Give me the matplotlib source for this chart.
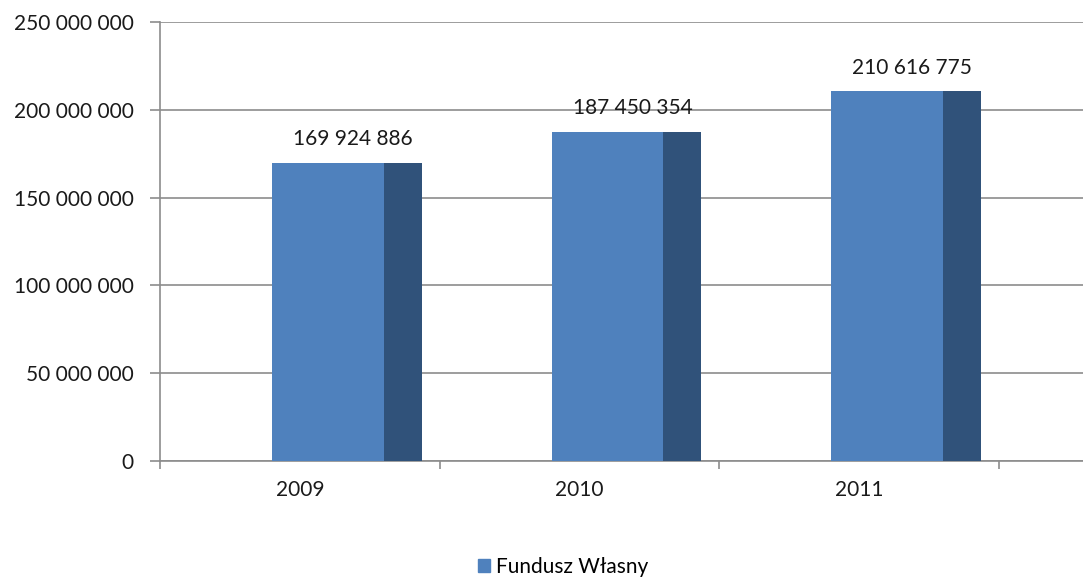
import matplotlib.pyplot as plt
from matplotlib.patches import Patch

years = ['2009', '2010', '2011']
values = [169924886, 187450354, 210616775]
y_ticks = [0, 50000000, 100000000, 150000000, 200000000, 250000000]

FRONT = '#4F81BD'
SIDE = '#30527A'
GRID = '#8C8C8C'
TEXT = '#1a1a1a'

plt.rcParams['font.family'] = ['Lato', 'DejaVu Sans']


def fmt(v):
    return f'{v:,}'.replace(',', ' ')


fig = plt.figure(figsize=(10.83, 5.78), dpi=100)
ax = fig.add_axes([160 / 1083, 1 - 461 / 578, (1083 - 160) / 1083, (461 - 22) / 578])

x = list(range(len(years)))
ax.bar([i - 0.1 for i in x], values, width=0.4, align='edge', color=FRONT, zorder=3)
ax.bar([i + 0.3 for i in x], values, width=0.136, align='edge', color=SIDE, zorder=3)

# value labels above the bars
for i, v in zip(x, values):
    ax.annotate(fmt(v), (i + 0.19, v), xytext=(0, 17), textcoords='offset points',
                ha='center', va='center', fontsize=15, color=TEXT)

ax.set_xlim(-0.5, 2.8)
ax.set_ylim(0, 250000000)
ax.set_yticks(y_ticks)
ax.set_yticklabels([fmt(t) for t in y_ticks], fontsize=15, color=TEXT)
ax.set_xticks(x)
ax.set_xticklabels(years, fontsize=15, color=TEXT)
ax.tick_params(axis='x', which='major', length=0, pad=14)
ax.set_xticks([-0.5, 0.5, 1.5, 2.5], minor=True)
ax.tick_params(axis='x', which='minor', length=6, color=GRID, width=1.2)
ax.tick_params(axis='y', length=7, color=GRID, width=1.2, pad=12)

ax.grid(axis='y', color=GRID, linewidth=1.2, zorder=0)
for s in ['top', 'right']:
    ax.spines[s].set_visible(False)
for s in ['left', 'bottom']:
    ax.spines[s].set_color(GRID)
    ax.spines[s].set_linewidth(1.2)

fig.legend(handles=[Patch(color=FRONT, label='Fundusz Własny')], loc='lower center',
           bbox_to_anchor=(0.52, -0.03), frameon=False, fontsize=15,
           handlelength=0.6, handleheight=0.6, handletextpad=0.3)

fig.savefig('out.png', dpi=100)
